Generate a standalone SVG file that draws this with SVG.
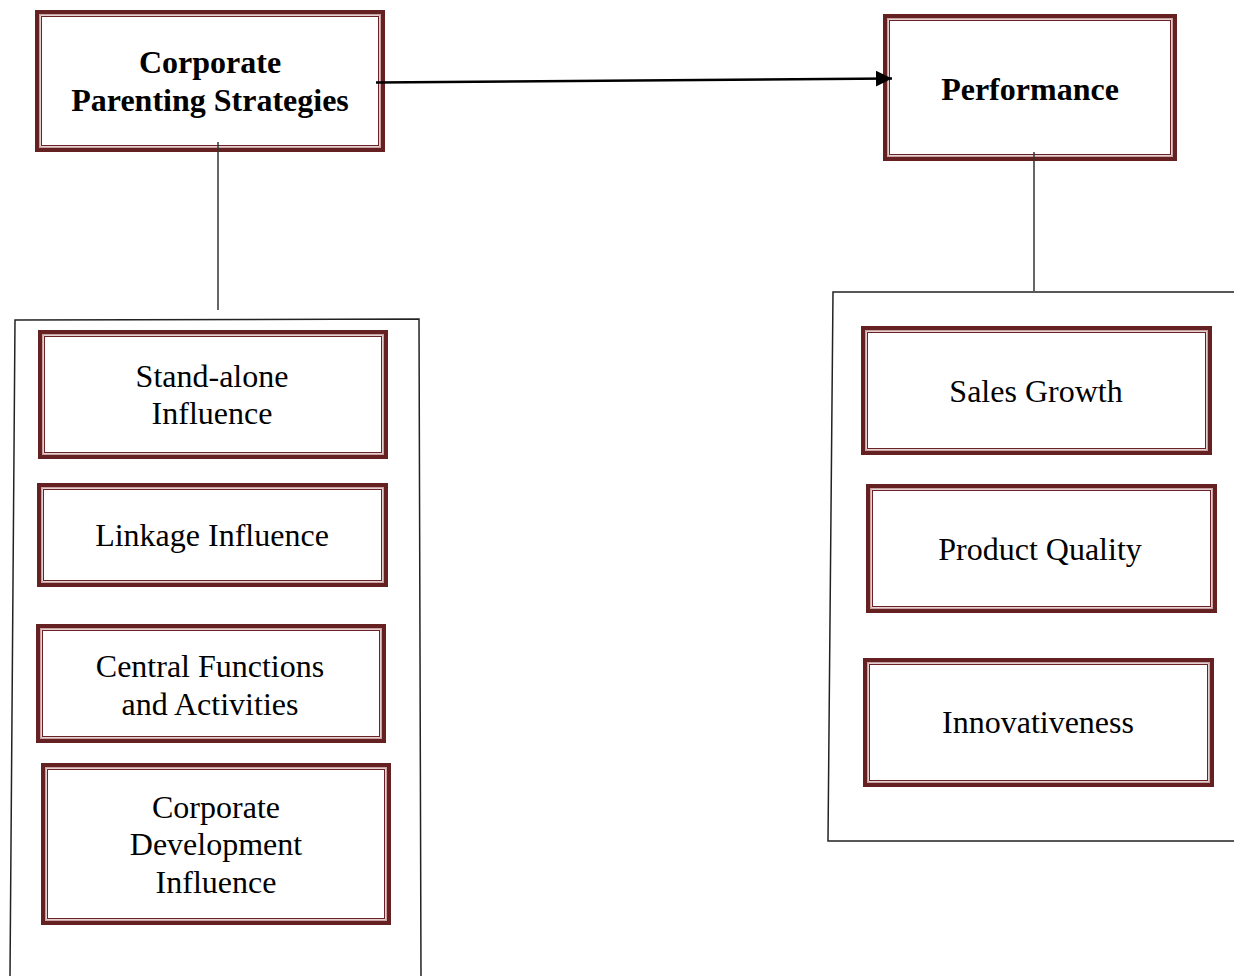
<svg xmlns="http://www.w3.org/2000/svg" width="1234" height="976" viewBox="0 0 1234 976">
<style>
.o{fill:#fff;stroke:#652022;stroke-width:4}
.m{fill:none;stroke:#c9a3a3;stroke-width:1.5}
.i{fill:none;stroke:#6b2226;stroke-width:1}
.t{font-family:"Liberation Serif","Times New Roman",serif;font-size:32px;fill:#000;text-anchor:middle}
.b{font-weight:bold}
.c{fill:none;stroke:#222;stroke-width:1.5}
</style>
<defs>
<marker id="ah" markerUnits="userSpaceOnUse" markerWidth="18" markerHeight="18" refX="16" refY="8" orient="auto">
<path d="M0,0 L16,8 L0,16 Z" fill="#000"/>
</marker>
</defs>
<g id="containers">
<polyline class="c" points="10,976 15,320 419,319 421,976"/>
<polyline class="c" points="1234,292 833,292 828,841 1234,841"/>
</g>
<g id="cps">
<rect class="o" x="37" y="12" width="346" height="138"/>
<rect class="m" x="39.75" y="14.75" width="340.5" height="132.5"/>
<rect class="i" x="41.5" y="16.5" width="337" height="129"/>
<text class="t b" x="210" y="73">Corporate</text>
<text class="t b" x="210" y="111">Parenting Strategies</text>
</g>
<g id="performance">
<rect class="o" x="885" y="16" width="290" height="143"/>
<rect class="m" x="887.75" y="18.75" width="284.5" height="137.5"/>
<rect class="i" x="889.5" y="20.5" width="281" height="134"/>
<text class="t b" x="1030" y="100">Performance</text>
</g>
<g id="standalone">
<rect class="o" x="40" y="332" width="346" height="125"/>
<rect class="m" x="42.75" y="334.75" width="340.5" height="119.5"/>
<rect class="i" x="44.5" y="336.5" width="337" height="116"/>
<text class="t" x="212" y="387">Stand-alone</text>
<text class="t" x="212" y="424">Influence</text>
</g>
<g id="linkage">
<rect class="o" x="39" y="485" width="347" height="100"/>
<rect class="m" x="41.75" y="487.75" width="341.5" height="94.5"/>
<rect class="i" x="43.5" y="489.5" width="338" height="91"/>
<text class="t" x="212" y="546">Linkage Influence</text>
</g>
<g id="central">
<rect class="o" x="38" y="626" width="346" height="115"/>
<rect class="m" x="40.75" y="628.75" width="340.5" height="109.5"/>
<rect class="i" x="42.5" y="630.5" width="337" height="106"/>
<text class="t" x="210" y="677">Central Functions</text>
<text class="t" x="210" y="715">and Activities</text>
</g>
<g id="development">
<rect class="o" x="43" y="765" width="346" height="158"/>
<rect class="m" x="45.75" y="767.75" width="340.5" height="152.5"/>
<rect class="i" x="47.5" y="769.5" width="337" height="149"/>
<text class="t" x="216" y="818">Corporate</text>
<text class="t" x="216" y="855">Development</text>
<text class="t" x="216" y="893">Influence</text>
</g>
<g id="sales">
<rect class="o" x="863" y="328" width="347" height="125"/>
<rect class="m" x="865.75" y="330.75" width="341.5" height="119.5"/>
<rect class="i" x="867.5" y="332.5" width="338" height="116"/>
<text class="t" x="1036" y="402">Sales Growth</text>
</g>
<g id="quality">
<rect class="o" x="868" y="486" width="347" height="125"/>
<rect class="m" x="870.75" y="488.75" width="341.5" height="119.5"/>
<rect class="i" x="872.5" y="490.5" width="338" height="116"/>
<text class="t" x="1040" y="560">Product Quality</text>
</g>
<g id="innovativeness">
<rect class="o" x="865" y="660" width="347" height="125"/>
<rect class="m" x="867.75" y="662.75" width="341.5" height="119.5"/>
<rect class="i" x="869.5" y="664.5" width="338" height="116"/>
<text class="t" x="1038" y="733">Innovativeness</text>
</g>
<g id="connectors">
<line x1="376" y1="82.5" x2="892" y2="78.5" stroke="#000" stroke-width="2.5" marker-end="url(#ah)"/>
<line x1="218" y1="142" x2="218" y2="310" stroke="#333" stroke-width="1.5"/>
<line x1="1034" y1="152" x2="1034" y2="291" stroke="#333" stroke-width="1.5"/>
</g>
</svg>
